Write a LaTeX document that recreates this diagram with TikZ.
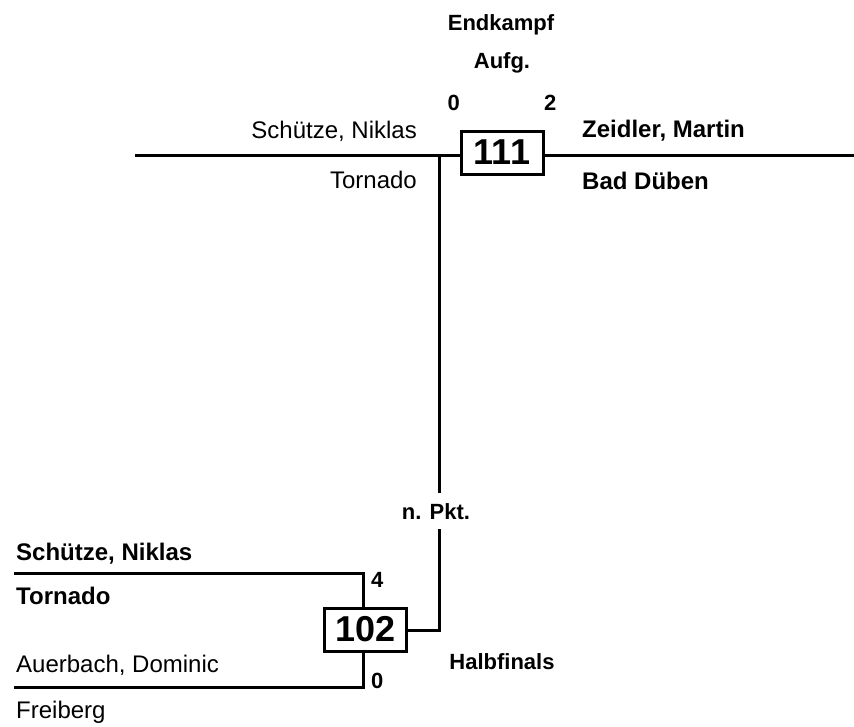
\documentclass[tikz,border=0pt]{standalone}
\usepackage{fontspec}
\setmainfont{Liberation Sans}
\begin{document}
\begin{tikzpicture}[x=1pt,y=-1pt,
  wire/.style={line width=3pt},
  plainname/.style={inner sep=0pt,font=\fontsize{24}{28}\selectfont},
  boldname/.style={inner sep=0pt,font=\fontsize{24}{28}\selectfont\bfseries},
  lbl/.style={inner sep=0pt,font=\fontsize{22}{26}\selectfont\bfseries},
  matchbox/.style={draw,line width=3pt,minimum width=82pt,minimum height=43pt,inner sep=0pt,font=\fontsize{36}{40}\selectfont\bfseries}]
\useasboundingbox (0,0) rectangle (854,726);
% match boxes
\node[matchbox] (m111) at (502,152.5) {111};
\node[matchbox] (m102) at (365.5,629.5) {102};
% coordinates
\coordinate (tl) at (135,155);
\coordinate (tr) at (854,155);
\coordinate (j) at (439,155);
\coordinate (v1) at (439,493);
\coordinate (v2) at (439,529);
\coordinate (v3) at (439,630);
\coordinate (a1) at (14,573);
\coordinate (a2) at (363,573);
\coordinate (b1) at (14,687);
\coordinate (b2) at (363,687);
% connectors
\draw[wire] (tl) -- (m111.west |- tl);
\draw[wire] (m111.east |- tr) -- (tr);
\draw[wire] (j) -- (v1);
\draw[wire] (v2) -- (v3) -- (m102.east |- v3);
\draw[wire] (a1) -- (a2) -- (a2 |- m102.north);
\draw[wire] (b1) -- (b2) -- (b2 |- m102.south);
% texts
\node[lbl,anchor=base] (t1) at (501,30) {Endkampf};
\node[lbl,anchor=base] (t2) at (502,68) {Aufg.};
\node[lbl,anchor=base east] (s1) at (460,110) {0};
\node[lbl,anchor=base west] (s2) at (544,110) {2};
\node[plainname,anchor=base east] (n1) at (417,138) {Schütze, Niklas};
\node[plainname,anchor=base east] (c1) at (417,188) {Tornado};
\node[boldname,anchor=base west] (n2) at (582,137) {Zeidler, Martin};
\node[boldname,anchor=base west] (c2) at (582,189) {Bad Düben};
\node[lbl,anchor=base] (np) at (436,519) {n. Pkt.};
\node[boldname,anchor=base west] (n3) at (16,560) {Schütze, Niklas};
\node[boldname,anchor=base west] (c3) at (16,604) {Tornado};
\node[plainname,anchor=base west] (n4) at (16,672) {Auerbach, Dominic};
\node[plainname,anchor=base west] (c4) at (16,718) {Freiberg};
\node[lbl,anchor=base west] (s3) at (371,587) {4};
\node[lbl,anchor=base west] (s4) at (371,688) {0};
\node[lbl,anchor=base] (hf) at (502,669) {Halbfinals};
\end{tikzpicture}
\end{document}
